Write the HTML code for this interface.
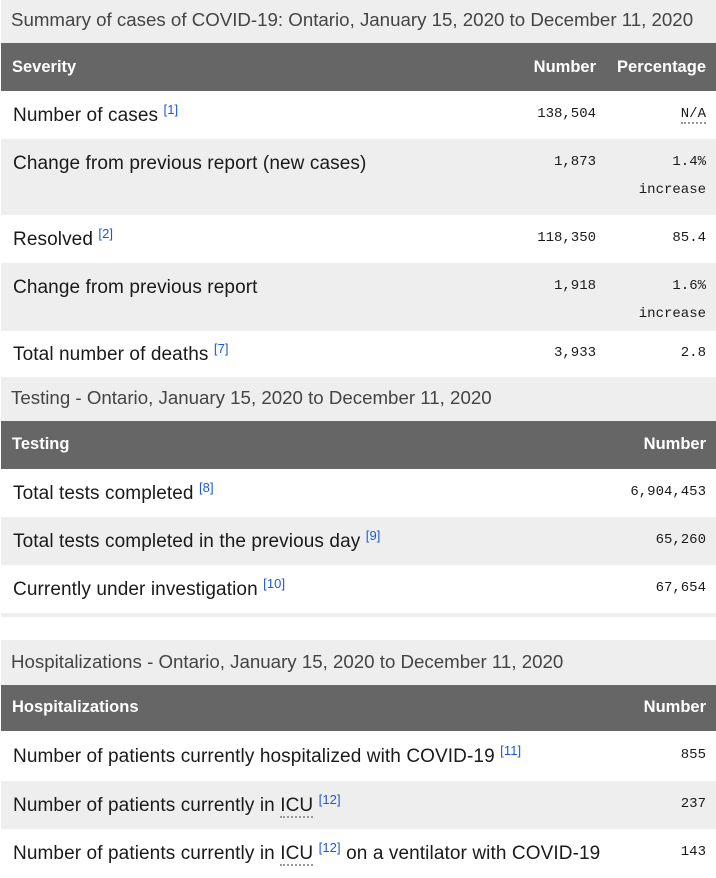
<!DOCTYPE html>
<html><head><meta charset="utf-8"><style>
body{margin:0;width:716px;height:878px;position:relative;background:#fff;overflow:hidden;font-family:"Liberation Sans",sans-serif;color:#1a1a1a}
.b{position:absolute;left:1px;width:715px}
.g{background:#eee}.h{background:#666;color:#fff;font-weight:bold;font-size:16.5px}
.t{position:absolute;white-space:nowrap}
.cap{font-size:18.7px;color:#444;left:10px}
.r{font-size:19px;left:12px;letter-spacing:0.1px}
.m{font-family:"Liberation Mono",monospace;font-size:14px;position:absolute;white-space:nowrap;text-align:right}
sup{color:#1a5ad7;font-size:13px;vertical-align:7px;line-height:0}
.ab{border-bottom:2px dotted #999}
</style></head><body>
<div class="b g" style="top:0;height:43px"><span class="t cap" style="top:9px">Summary of cases of COVID-19: Ontario, January 15, 2020 to December 11, 2020</span></div>
<div class="b h" style="top:43px;height:48px"><span class="t" style="left:11px;top:15px">Severity</span><span class="t" style="right:120px;top:15px">Number</span><span class="t" style="right:10px;top:15px">Percentage</span></div>
<div class="b" style="top:91px;height:48px"><span class="t r" style="top:14px">Number of cases <sup>[1]</sup></span><span class="m" style="right:120px;top:15px">138,504</span><span class="m" style="right:10px;top:15px"><span class="ab">N/A</span></span></div>
<div class="b g" style="top:139px;height:76px"><span class="t r" style="top:14px">Change from previous report (new cases)</span><span class="m" style="right:120px;top:15px">1,873</span><span class="m" style="right:10px;top:15px">1.4%</span><span class="m" style="right:10px;top:43px">increase</span></div>
<div class="b" style="top:215px;height:48px"><span class="t r" style="top:14px">Resolved <sup>[2]</sup></span><span class="m" style="right:120px;top:15px">118,350</span><span class="m" style="right:10px;top:15px">85.4</span></div>
<div class="b g" style="top:263px;height:68px"><span class="t r" style="top:14px">Change from previous report</span><span class="m" style="right:120px;top:15px">1,918</span><span class="m" style="right:10px;top:15px">1.6%</span><span class="m" style="right:10px;top:43px">increase</span></div>
<div class="b" style="top:331px;height:46px"><span class="t r" style="top:13px">Total number of deaths <sup>[7]</sup></span><span class="m" style="right:120px;top:14px">3,933</span><span class="m" style="right:10px;top:14px">2.8</span></div>
<div class="b g" style="top:377px;height:44px"><span class="t cap" style="top:10px">Testing - Ontario, January 15, 2020 to December 11, 2020</span></div>
<div class="b h" style="top:421px;height:48px"><span class="t" style="left:11px;top:14px">Testing</span><span class="t" style="right:10px;top:14px">Number</span></div>
<div class="b" style="top:469px;height:48px"><span class="t r" style="top:14px">Total tests completed <sup>[8]</sup></span><span class="m" style="right:10px;top:15px">6,904,453</span></div>
<div class="b g" style="top:517px;height:48px"><span class="t r" style="top:14px">Total tests completed in the previous day <sup>[9]</sup></span><span class="m" style="right:10px;top:15px">65,260</span></div>
<div class="b" style="top:565px;height:48px"><span class="t r" style="top:14px">Currently under investigation <sup>[10]</sup></span><span class="m" style="right:10px;top:15px">67,654</span></div>
<div class="b g" style="top:613px;height:4px"></div>
<div class="b g" style="top:640px;height:45px"><span class="t cap" style="top:11px">Hospitalizations - Ontario, January 15, 2020 to December 11, 2020</span></div>
<div class="b h" style="top:685px;height:46px"><span class="t" style="left:11px;top:13px">Hospitalizations</span><span class="t" style="right:10px;top:13px">Number</span></div>
<div class="b" style="top:731px;height:50px"><span class="t r" style="top:15px">Number of patients currently hospitalized with COVID-19 <sup>[11]</sup></span><span class="m" style="right:10px;top:16px">855</span></div>
<div class="b g" style="top:781px;height:48px"><span class="t r" style="top:14px">Number of patients currently in <span class="ab">ICU</span> <sup>[12]</sup></span><span class="m" style="right:10px;top:15px">237</span></div>
<div class="b" style="top:829px;height:49px"><span class="t r" style="top:14px">Number of patients currently in <span class="ab">ICU</span> <sup>[12]</sup> on a ventilator with COVID-19</span><span class="m" style="right:10px;top:15px">143</span></div>
</body></html>
